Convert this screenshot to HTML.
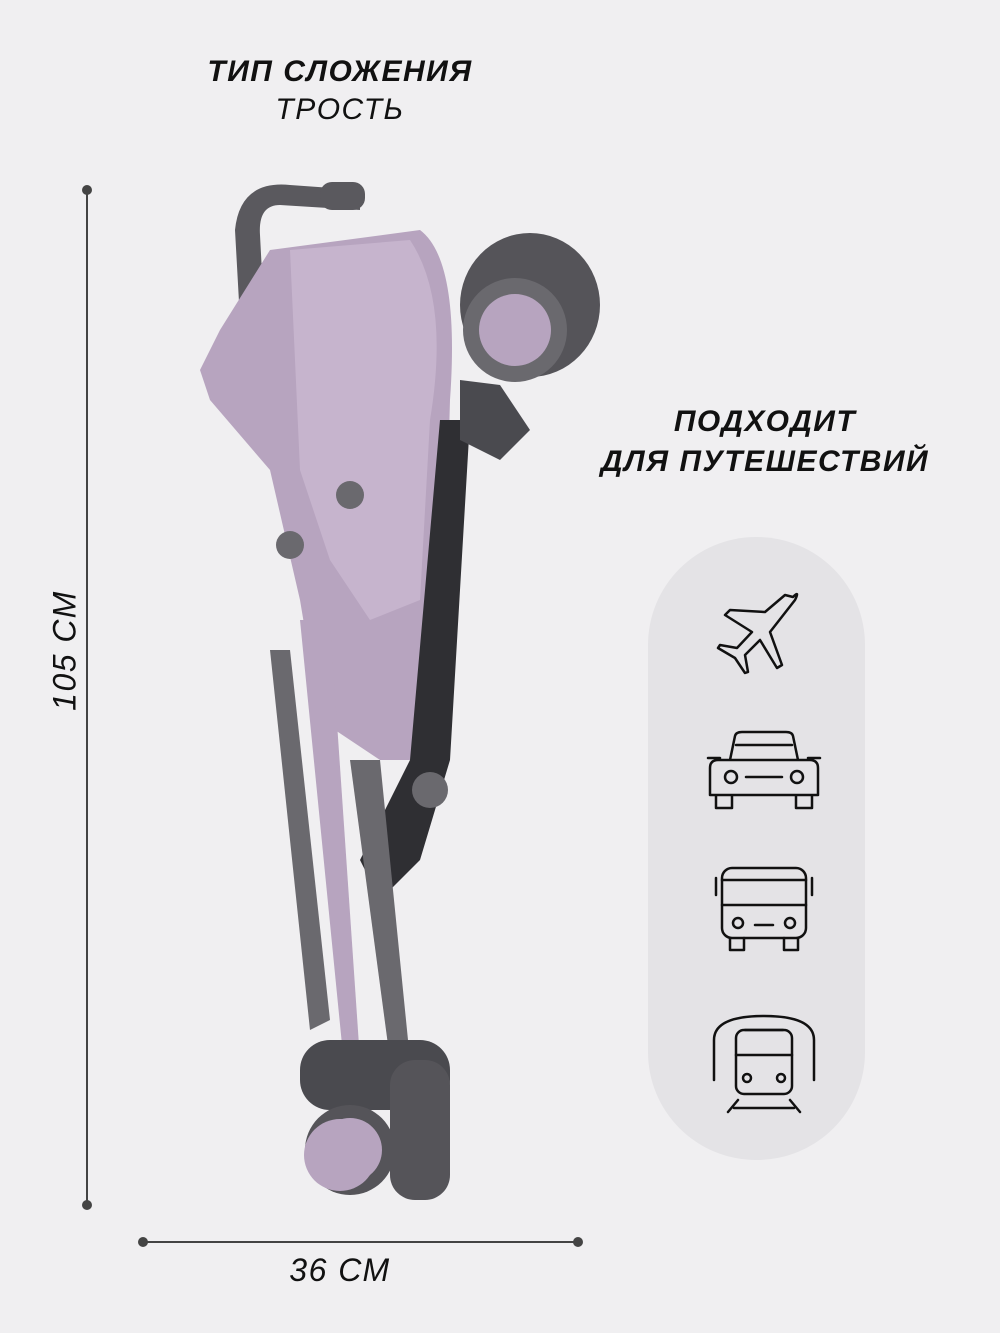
<!DOCTYPE html>
<html><head><meta charset="utf-8"><style>
html,body{margin:0;padding:0;background:#f0eff1;}
body{width:1000px;height:1333px;position:relative;overflow:hidden;font-family:"Liberation Sans",sans-serif;}
.t{position:absolute;color:#111;text-align:center;}
</style></head><body>
<div class="t" style="left:140px;top:55px;width:400px;font-size:30px;font-weight:bold;font-style:italic;letter-spacing:1.5px;">ТИП СЛОЖЕНИЯ</div>
<div class="t" style="left:140px;top:93px;width:400px;font-size:30px;font-style:italic;letter-spacing:1.5px;">ТРОСТЬ</div>
<div class="t" style="left:555px;top:405px;width:420px;font-size:30px;font-weight:bold;font-style:italic;letter-spacing:1.5px;">ПОДХОДИТ</div>
<div class="t" style="left:555px;top:445px;width:420px;font-size:30px;font-weight:bold;font-style:italic;letter-spacing:1.5px;">ДЛЯ ПУТЕШЕСТВИЙ</div>
<div class="t" style="left:255px;top:1252px;width:170px;font-size:32px;font-style:italic;letter-spacing:1.5px;">36 СМ</div>
<div class="t" style="left:-35px;top:632px;width:200px;font-size:32px;font-style:italic;letter-spacing:1.5px;transform:rotate(-90deg);">105 СМ</div>
<svg width="1000" height="1333" style="position:absolute;left:0;top:0">
<line x1="87" y1="190" x2="87" y2="1205" stroke="#444" stroke-width="2"/>
<circle cx="87" cy="190" r="5" fill="#444"/><circle cx="87" cy="1205" r="5" fill="#444"/>
<line x1="143" y1="1242" x2="578" y2="1242" stroke="#444" stroke-width="2"/>
<circle cx="143" cy="1242" r="5" fill="#444"/><circle cx="578" cy="1242" r="5" fill="#444"/>
<rect x="648" y="537" width="217" height="623" rx="108" fill="#e4e3e6"/>
<g>
<path d="M240 320 L235 230 Q240 180 290 185 L360 190 L360 210 L280 205 Q258 205 260 235 L265 330 Z" fill="#5a595e"/>
<rect x="320" y="182" width="45" height="28" rx="12" fill="#5a595e"/>
<path d="M270 250 L420 230 Q460 260 450 400 L440 760 L380 760 L320 720 L300 600 L270 470 L210 400 L200 370 L220 330 Z" fill="#b7a4bf"/>
<path d="M290 250 L410 240 Q450 300 430 420 L420 600 L370 620 L330 560 L300 470 Z" fill="#c6b4cd"/>
<path d="M300 620 L330 620 L360 1060 L345 1075 Z" fill="#b7a4bf"/>
<path d="M440 420 L470 420 L450 760 L420 860 L380 900 L360 860 L410 760 Z" fill="#2f2f33"/>
<path d="M460 380 L500 385 L530 430 L500 460 L460 440 Z" fill="#4a4a4f"/>
<path d="M270 650 L290 650 L330 1020 L310 1030 Z" fill="#6a696e"/>
<path d="M350 760 L380 760 L410 1060 L390 1060 Z" fill="#6a696e"/>
<ellipse cx="530" cy="305" rx="70" ry="72" fill="#555459"/>
<circle cx="515" cy="330" r="52" fill="#6a696e"/>
<circle cx="515" cy="330" r="36" fill="#b7a4bf"/>
<rect x="300" y="1040" width="150" height="70" rx="30" fill="#4a4a4f"/>
<circle cx="350" cy="1150" r="45" fill="#555459"/>
<circle cx="350" cy="1150" r="32" fill="#b7a4bf"/>
<rect x="390" y="1060" width="60" height="140" rx="25" fill="#555459"/>
<circle cx="340" cy="1155" r="36" fill="#b7a4bf"/>
<circle cx="430" cy="790" r="18" fill="#6a696e"/>
<circle cx="290" cy="545" r="14" fill="#6a696e"/>
<circle cx="350" cy="495" r="14" fill="#6a696e"/>
</g>
<g fill="none" stroke="#111" stroke-width="2.5" stroke-linejoin="round" stroke-linecap="round">
<path d="M793 597 Q800 590 795 600 L770 632 L782 665 L777 668 L760 640 L745 655 L748 672 L745 673 L735 658 L718 648 L720 645 L737 648 L752 632 L725 615 L730 610 L765 612 L785 595 Z"/>
<path d="M730 760 L735 736 Q736 732 742 732 L786 732 Q792 732 793 736 L798 760 M718 760 Q710 760 710 768 L710 795 L818 795 L818 768 Q818 760 810 760 Z M716 795 L716 808 L732 808 L732 795 M796 795 L796 808 L812 808 L812 795 M708 758 L720 758 M808 758 L820 758"/>
<circle cx="731" cy="777" r="6"/><circle cx="797" cy="777" r="6"/>
<path d="M746 777 L782 777 M736 745 L792 745"/>
<rect x="722" y="868" width="84" height="70" rx="10"/>
<path d="M722 905 L806 905 M722 880 L806 880 M730 938 L730 950 L744 950 L744 938 M784 938 L784 950 L798 950 L798 938 M755 925 L773 925 M716 878 L716 895 M812 878 L812 895"/>
<circle cx="738" cy="923" r="5"/><circle cx="790" cy="923" r="5"/>
<path d="M714 1080 L714 1040 Q714 1016 764 1016 Q814 1016 814 1040 L814 1080"/>
<rect x="736" y="1030" width="56" height="64" rx="8"/>
<path d="M736 1055 L792 1055 M745 1030 L783 1030 M738 1100 L728 1112 M790 1100 L800 1112 M734 1108 L794 1108"/>
<circle cx="747" cy="1078" r="4"/><circle cx="781" cy="1078" r="4"/>
</g>
</svg>
</body></html>
